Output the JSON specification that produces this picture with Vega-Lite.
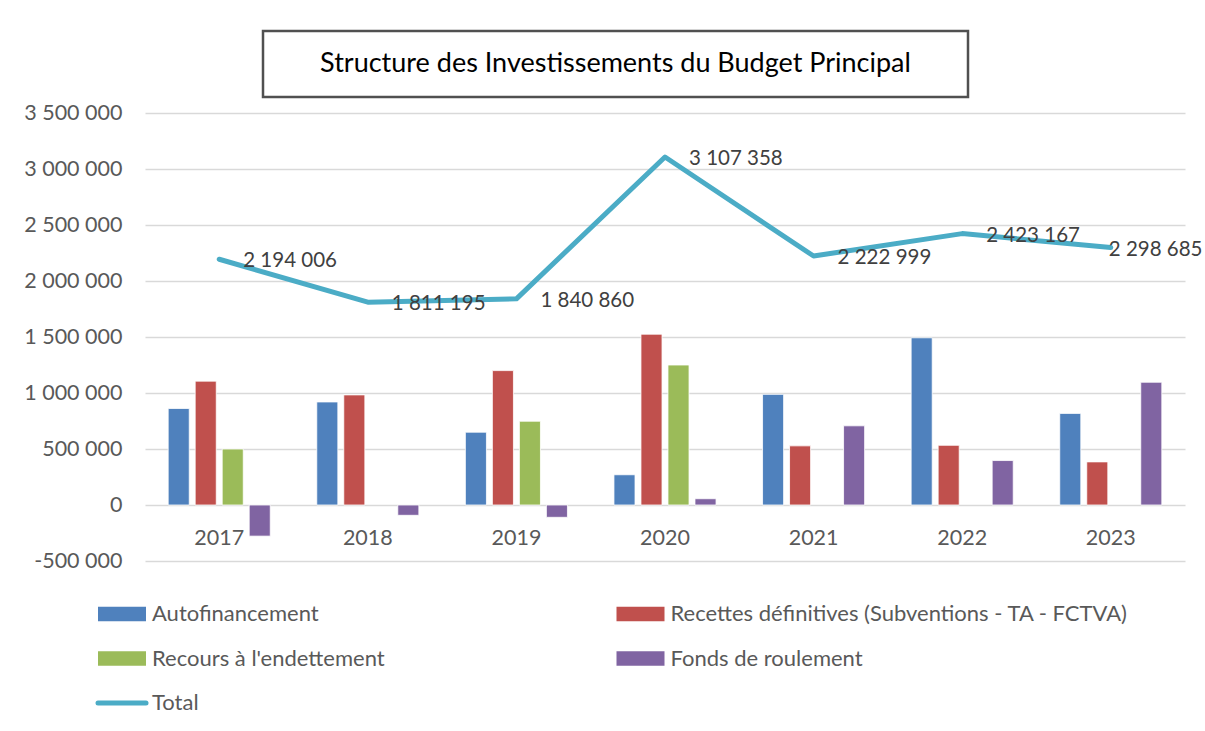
{
  "$schema": "https://vega.github.io/schema/vega-lite/v6.json",
  "background": "white",
  "padding": {"left": 23, "top": 29, "right": 0, "bottom": 0},
  "spacing": 3,
  "config": {
    "locale": {"number": {"decimal": ",", "thousands": " ", "grouping": [3], "currency": ["", " €"], "minus": "-"}},
    "view": {"stroke": null},
    "font": "Lato"
  },
  "datasets": {
    "bars": [
      {"year": "2017", "serie": "Autofinancement", "value": 862000},
      {"year": "2017", "serie": "Recettes définitives (Subventions - TA - FCTVA)", "value": 1106000},
      {"year": "2017", "serie": "Recours à l'endettement", "value": 500000},
      {"year": "2017", "serie": "Fonds de roulement", "value": -278000},
      {"year": "2018", "serie": "Autofinancement", "value": 920000},
      {"year": "2018", "serie": "Recettes définitives (Subventions - TA - FCTVA)", "value": 983000},
      {"year": "2018", "serie": "Fonds de roulement", "value": -92000},
      {"year": "2019", "serie": "Autofinancement", "value": 650000},
      {"year": "2019", "serie": "Recettes définitives (Subventions - TA - FCTVA)", "value": 1200000},
      {"year": "2019", "serie": "Recours à l'endettement", "value": 748000},
      {"year": "2019", "serie": "Fonds de roulement", "value": -110000},
      {"year": "2020", "serie": "Autofinancement", "value": 270000},
      {"year": "2020", "serie": "Recettes définitives (Subventions - TA - FCTVA)", "value": 1525000},
      {"year": "2020", "serie": "Recours à l'endettement", "value": 1250000},
      {"year": "2020", "serie": "Fonds de roulement", "value": 56000},
      {"year": "2021", "serie": "Autofinancement", "value": 988000},
      {"year": "2021", "serie": "Recettes définitives (Subventions - TA - FCTVA)", "value": 528000},
      {"year": "2021", "serie": "Fonds de roulement", "value": 707000},
      {"year": "2022", "serie": "Autofinancement", "value": 1493000},
      {"year": "2022", "serie": "Recettes définitives (Subventions - TA - FCTVA)", "value": 533000},
      {"year": "2022", "serie": "Fonds de roulement", "value": 397000},
      {"year": "2023", "serie": "Autofinancement", "value": 818000},
      {"year": "2023", "serie": "Recettes définitives (Subventions - TA - FCTVA)", "value": 385000},
      {"year": "2023", "serie": "Fonds de roulement", "value": 1096000}
    ],
    "totals": [
      {"year": "2017", "serie": "Total", "total": 2194006},
      {"year": "2018", "serie": "Total", "total": 1811195},
      {"year": "2019", "serie": "Total", "total": 1840860},
      {"year": "2020", "serie": "Total", "total": 3107358},
      {"year": "2021", "serie": "Total", "total": 2222999},
      {"year": "2022", "serie": "Total", "total": 2423167},
      {"year": "2023", "serie": "Total", "total": 2298685}
    ]
  },
  "vconcat": [
    {
      "spacing": 0,
      "hconcat": [
        {
          "width": 116,
          "height": 66,
          "view": {"fill": "white", "stroke": null},
          "data": {"values": [{"t": ""}]},
          "mark": {"type": "text"},
          "encoding": {"text": {"field": "t", "type": "nominal"}}
        },
        {
          "width": 705,
          "height": 66,
          "view": {"stroke": "#505050", "strokeWidth": 2.5},
          "data": {"values": [{"t": "Structure des Investissements du Budget Principal"}]},
          "mark": {"type": "text", "font": "Lato", "fontSize": 27, "color": "#000000", "baseline": "middle", "align": "center"},
          "encoding": {"text": {"field": "t", "type": "nominal"}}
        }
      ]
    },
    {
      "width": 1040,
      "height": 448,
      "encoding": {
        "x": {
          "field": "year", "type": "nominal",
          "scale": {"paddingInner": 0.273, "paddingOuter": 0.136},
          "axis": {"title": null, "orient": "bottom", "offset": -56, "domain": false, "ticks": false, "labelAngle": 0, "labelFont": "Lato", "labelFontSize": 21.5, "labelColor": "#595959", "labelPadding": 22, "grid": false}
        },
        "color": {
          "field": "serie", "type": "nominal",
          "scale": {
            "domain": ["Autofinancement", "Recettes définitives (Subventions - TA - FCTVA)", "Recours à l'endettement", "Fonds de roulement", "Total"],
            "range": ["#4f81bd", "#c0504d", "#9bbb59", "#8064a2", "#4bacc6"]
          },
          "legend": {
            "title": null,
            "orient": "none",
            "direction": "horizontal",
            "legendX": -34,
            "legendY": 572,
            "columns": 2,
            "columnPadding": 231.5,
            "rowPadding": 22.5,
            "symbolSize": 576,
            "symbolType": "M-2,-0.6H2V0.6H-2Z",
            "labelOffset": 19,
            "labelFont": "Lato",
            "labelFontSize": 22,
            "labelColor": "#595959",
            "labelLimit": 600,
            "encode": {
              "symbols": {
                "update": {
                  "shape": {"signal": "datum.value === 'Total' ? 'M-2,0H2' : 'M-2,-0.6H2V0.6H-2Z'"},
                  "fill": {"signal": "datum.value === 'Total' ? 'transparent' : scale('color', datum.value)"},
                  "stroke": {"signal": "scale('color', datum.value)"},
                  "strokeWidth": {"signal": "datum.value === 'Total' ? 5 : 0"},
                  "strokeCap": {"value": "round"},
                  "opacity": {"value": 1}
                }
              }
            }
          }
        }
      },
      "layer": [
        {
          "data": {"name": "bars"},
          "mark": {"type": "bar", "stroke": "white", "strokeWidth": 0.8},
          "encoding": {
            "xOffset": {
              "field": "serie", "type": "nominal",
              "scale": {"domain": ["Autofinancement", "Recettes définitives (Subventions - TA - FCTVA)", "Recours à l'endettement", "Fonds de roulement"], "paddingInner": 0.22, "paddingOuter": 0.11}
            },
            "y": {
              "field": "value", "type": "quantitative",
              "scale": {"domain": [-500000, 3500000], "nice": false, "zero": false},
              "axis": {"title": null, "values": [-500000, 0, 500000, 1000000, 1500000, 2000000, 2500000, 3000000, 3500000], "format": ",d", "domain": false, "ticks": false, "labelFont": "Lato", "labelFontSize": 21.5, "labelColor": "#595959", "labelPadding": 23, "minExtent": 120, "maxExtent": 120, "gridColor": "#d9d9d9", "gridWidth": 1.5}
            }
          }
        },
        {
          "data": {"name": "totals"},
          "mark": {"type": "line", "strokeWidth": 5, "strokeJoin": "round", "strokeCap": "round"},
          "encoding": {
            "y": {"field": "total", "type": "quantitative"}
          }
        },
        {
          "data": {"name": "totals"},
          "transform": [{"filter": "datum.year !== '2023'"}],
          "mark": {"type": "text", "align": "left", "baseline": "middle", "dx": 24, "dy": 2, "font": "Lato", "fontSize": 20.5},
          "encoding": {
            "y": {"field": "total", "type": "quantitative"},
            "text": {"field": "total", "type": "quantitative", "format": ",d"},
            "color": {"value": "#404040"}
          }
        },
        {
          "data": {"name": "totals"},
          "transform": [{"filter": "datum.year === '2023'"}],
          "mark": {"type": "text", "align": "left", "baseline": "middle", "dx": -2, "dy": 2, "font": "Lato", "fontSize": 20.5},
          "encoding": {
            "y": {"field": "total", "type": "quantitative"},
            "text": {"field": "total", "type": "quantitative", "format": ",d"},
            "color": {"value": "#404040"}
          }
        }
      ]
    }
  ]
}
